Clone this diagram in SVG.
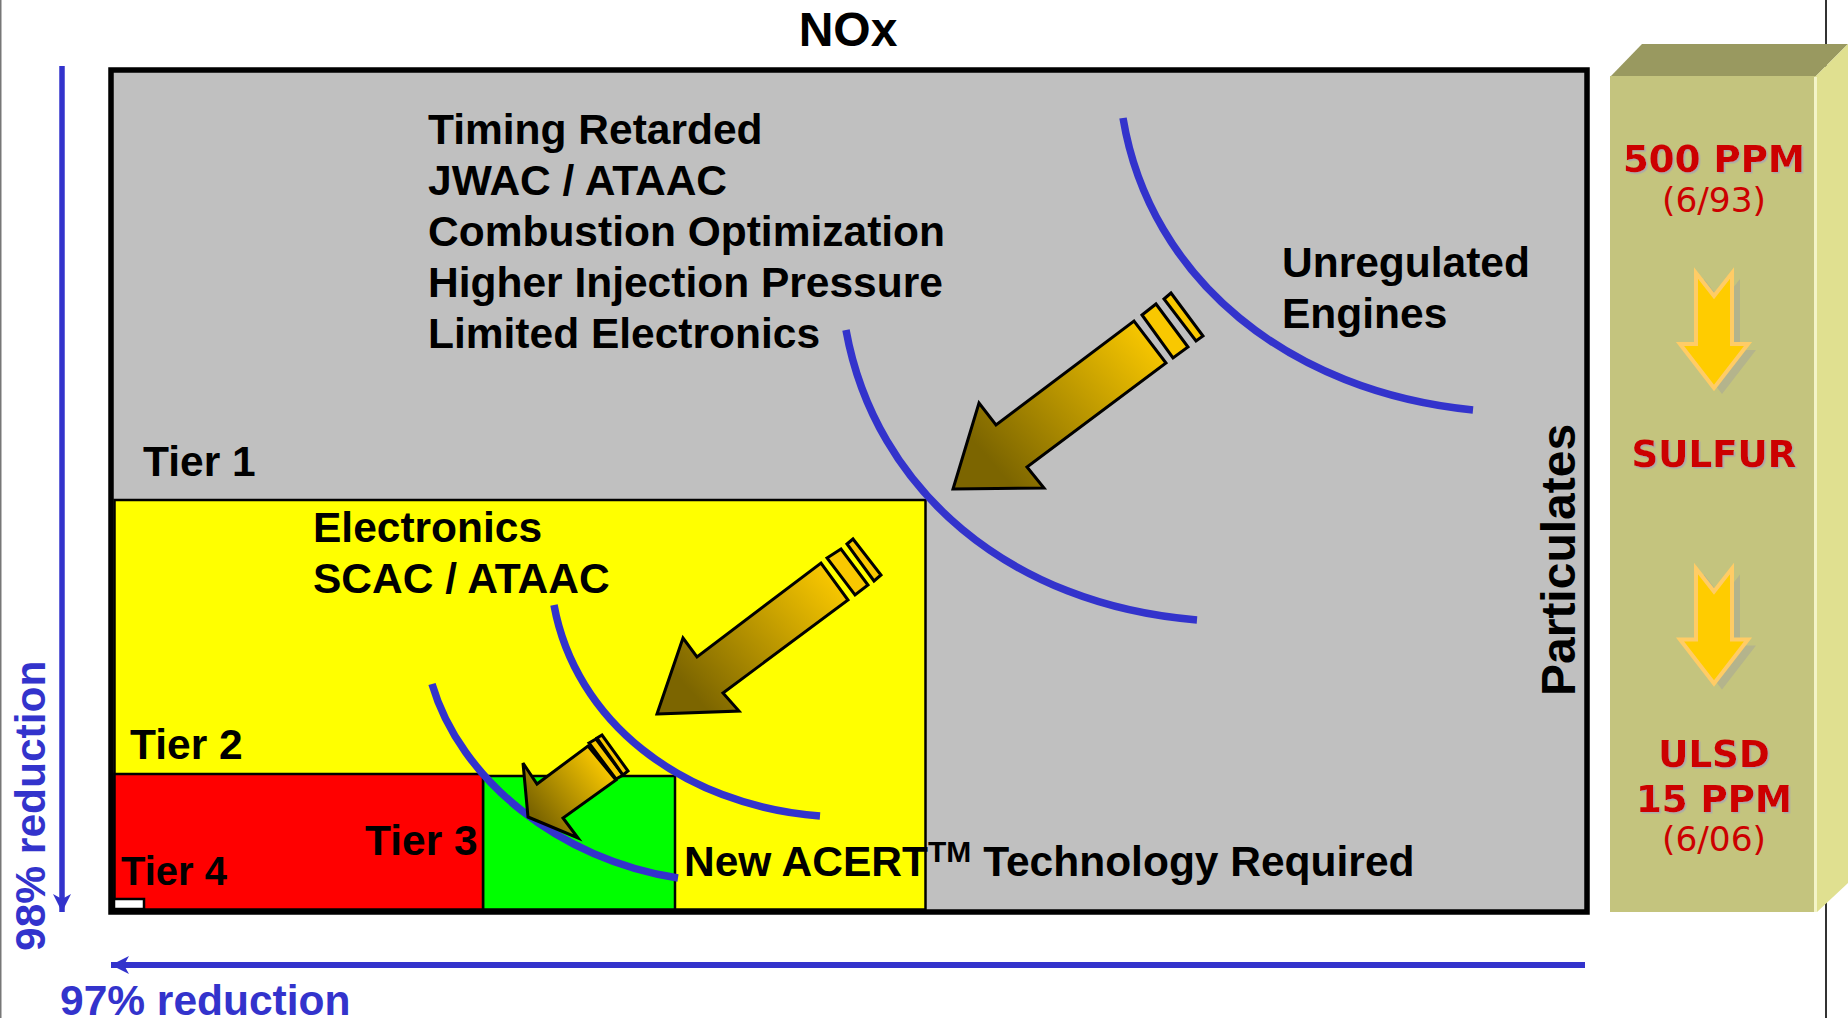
<svg xmlns="http://www.w3.org/2000/svg" width="1848" height="1018" viewBox="0 0 1848 1018">
<style>
text{font-family:"Liberation Sans",Arial,sans-serif;font-weight:bold;fill:#000;font-size:42.5px}
.b{fill:#3333cc}
.r{font-family:"DejaVu Sans",sans-serif;fill:#cc0000;text-anchor:middle;font-size:37.2px;filter:url(#ts)}
.n{font-family:"DejaVu Sans",sans-serif;fill:#cc0000;text-anchor:middle;font-size:34.4px;font-weight:normal}
.c{fill:none;stroke:#3333cc;stroke-width:7.5}
.t{stroke:#000;stroke-width:2.5}
.a{stroke:#000;stroke-width:3;stroke-linejoin:miter}
.s{fill:#f9c800}
.d{fill:#ffcc00;stroke:#ffcc66;stroke-width:4}
</style>
<defs>
<filter id="ts" x="-10%" y="-10%" width="120%" height="120%"><feDropShadow dx="1.5" dy="1.5" stdDeviation="0.4" flood-color="#aaaaaa"/></filter>
<linearGradient id="g1" gradientUnits="userSpaceOnUse" x1="1155" y1="338" x2="1000" y2="472"><stop offset="0" stop-color="#f9c800"/><stop offset="1" stop-color="#7c6500"/></linearGradient>
<linearGradient id="g2" gradientUnits="userSpaceOnUse" x1="838" y1="580" x2="700" y2="702"><stop offset="0" stop-color="#f9c800"/><stop offset="1" stop-color="#7c6500"/></linearGradient>
<linearGradient id="g3" gradientUnits="userSpaceOnUse" x1="604" y1="762" x2="535" y2="815"><stop offset="0" stop-color="#f9c800"/><stop offset="1" stop-color="#7c6500"/></linearGradient>
<marker id="h" markerUnits="userSpaceOnUse" markerWidth="20" markerHeight="20" refX="18" refY="9" orient="auto"><path d="M0 0L18 9L0 18L5 9Z" fill="#3333cc"/></marker>
</defs>
<rect width="1848" height="1018" fill="#fff"/>
<rect x="0" y="0" width="1.5" height="1018" fill="#777"/>
<rect x="1825" y="0" width="2" height="1018" fill="#333"/>

<g id="column">
<polygon points="1610,77 1642,44 1848,44 1815,77" fill="#999960"/>
<polygon points="1815,77 1848,44 1848,883 1817,912" fill="#e0e090"/>
<rect x="1610" y="76" width="205" height="836" fill="#c4c47e"/>
<rect x="1814" y="77" width="3" height="835" fill="#f4f4c8"/>
<text class="r" x="1714" y="172">500 PPM</text>
<text class="n" x="1714" y="212">(6/93)</text>
<text class="r" x="1714" y="467">SULFUR</text>
<text class="r" x="1714" y="767">ULSD</text>
<text class="r" x="1714" y="812">15 PPM</text>
<text class="n" x="1714" y="851">(6/06)</text>
<g id="down1"><polygon transform="translate(8 6)" points="1696,273 1714,296 1732,273 1732,344 1748,344 1714,388 1680,344 1696,344" fill="#b4b48c"/><polygon class="d" points="1696,273 1714,296 1732,273 1732,344 1748,344 1714,388 1680,344 1696,344"/></g>
<g id="down2"><polygon transform="translate(8 6)" points="1696,568.500 1714,591.500 1732,568.500 1732,639.500 1748,639.500 1714,683.500 1680,639.500 1696,639.500" fill="#b4b48c"/><polygon class="d" points="1696,568.500 1714,591.500 1732,568.500 1732,639.500 1748,639.500 1714,683.500 1680,639.500 1696,639.500"/></g>
</g>

<g id="frame"><rect x="111" y="70" width="1476" height="842" fill="#c0c0c0" stroke="#000" stroke-width="5.5"/></g>
<g id="tier1"><rect x="114.500" y="500" width="811" height="409.500" fill="#ffff00" class="t"/></g>
<g id="tier3"><rect x="483" y="776" width="192" height="133.500" fill="#00ff00" class="t"/></g>
<g id="tier2"><rect x="114.500" y="774" width="368.500" height="135.500" fill="#ff0000" class="t"/></g>
<g id="tier4"><rect x="114" y="899" width="30" height="10" fill="#fff" stroke="#000" stroke-width="2.5"/></g>

<g id="connectors">
<path class="c" d="M1123 118C1150 280 1290 392 1473 410"/>
<path class="c" d="M846 330C875 490 1010 605 1197 620"/>
<path class="c" d="M554 605C575 720 680 805 820 816"/>
<path class="c" d="M432 684C460 780 560 860 678 878"/>
<line x1="62" y1="66" x2="62" y2="912" stroke="#3333cc" stroke-width="5.500" marker-end="url(#h)"/>
<line x1="1585" y1="965" x2="111" y2="965" stroke="#3333cc" stroke-width="6" marker-end="url(#h)"/>
</g>

<g id="arrow1">
<polygon class="a" fill="url(#g1)" points="953,489 1044,488 1027,467 1166,363 1134,321 996,425 979,403"/>
<polygon class="a s" points="1142,315 1156,304 1188,347 1173,358"/>
<polygon class="a s" points="1164,299 1171,293 1203,336 1196,341"/>
</g>
<g id="arrow2">
<polygon class="a" fill="url(#g2)" points="657,714 739,711 723,693 848,600 821,563 697,657 683,638"/>
<polygon class="a s" points="827,558 841,549 868,585 855,595"/>
<polygon class="a s" points="847,544 853,539 881,575 874,581"/>
</g>
<g id="arrow3">
<polygon class="a" fill="url(#g3)" points="528,817 578,838 563,818 616,780 588,746 537,784 523,763"/>
<polygon class="a s" points="589,743 596,739 623,775 616,779"/>
<polygon class="a s" points="597,738 602,735 628,771 623,775"/>
</g>

<text x="848" y="46" style="font-size:48px" text-anchor="middle">NOx</text>
<text x="428" y="144">Timing Retarded</text>
<text x="428" y="195">JWAC / ATAAC</text>
<text x="428" y="246">Combustion Optimization</text>
<text x="428" y="297">Higher Injection Pressure</text>
<text x="428" y="348">Limited Electronics</text>
<text x="1282" y="277">Unregulated</text>
<text x="1282" y="328">Engines</text>
<text x="143" y="476">Tier 1</text>
<text x="313" y="542">Electronics</text>
<text x="313" y="593">SCAC / ATAAC</text>
<text x="130" y="759">Tier 2</text>
<text x="365" y="855">Tier 3</text>
<text x="121" y="885" style="font-size:40px">Tier 4</text>
<text x="684" y="876">New ACERT<tspan dy="-14" style="font-size:30px">TM</tspan><tspan dy="14"> Technology Required</tspan></text>
<text transform="translate(1575 696) rotate(-90)" style="font-size:48px">Particulates</text>
<text class="b" transform="translate(45 951) rotate(-90)">98% reduction</text>
<text class="b" x="60" y="1015">97% reduction</text>
</svg>
